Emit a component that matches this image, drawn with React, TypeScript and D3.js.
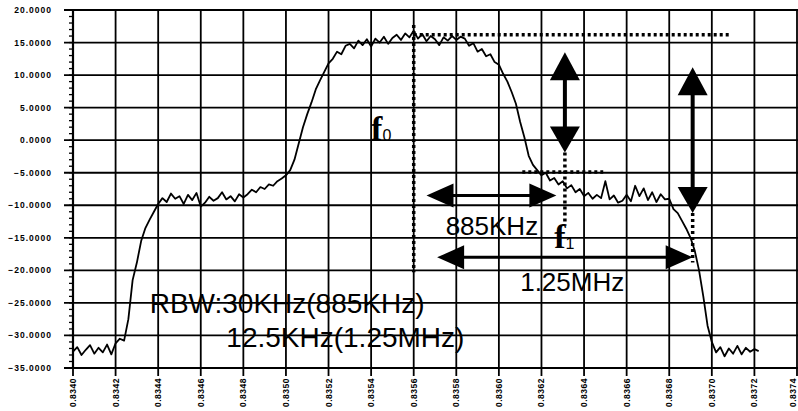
import React from 'react';
import * as d3 from 'd3';

// x axis: frequency (GHz), y axis: level (dB)
const freqTicks = [
  0.8340, 0.8342, 0.8344, 0.8346, 0.8348, 0.8350, 0.8352, 0.8354, 0.8356,
  0.8358, 0.8360, 0.8362, 0.8364, 0.8366, 0.8368, 0.8370, 0.8372, 0.8374,
];
const levelTicks = [20, 15, 10, 5, 0, -5, -10, -15, -20, -25, -30, -35];

// spectrum trace, sampled every 0.00002 GHz starting at 0.8340
const traceStart = 0.8340;
const traceStep = 0.00002;
const traceDb = [
  -32.5, -31.8, -33.0, -32.2, -31.5, -32.8, -31.9, -32.6, -31.4, -32.9, -31.2,
  -30.5, -30.8, -27.5, -21.5, -18.8, -15.5, -13.5, -12.2, -11.0, -9.8,
  -8.9, -9.5, -8.2, -9.0, -8.6, -9.8, -8.4, -9.2, -8.1, -10.2,
  -9.6, -8.7, -9.3, -8.9, -8.0, -9.1, -8.6, -9.4, -8.3, -8.8,
  -8.3, -7.6, -8.0, -7.2, -7.5, -6.8, -7.0, -6.3, -5.9, -5.4, -4.6,
  -3.0, -0.5, 2.0, 4.0, 5.8, 7.8, 9.2, 10.5, 11.8, 12.5, 13.6, 13.2, 14.5, 14.8,
  14.1, 15.3, 14.6, 15.5, 14.4, 15.6, 15.0, 15.9, 14.8, 15.7, 16.2, 15.4, 16.4, 15.8,
  16.8, 15.6, 16.3, 15.2, 16.0, 15.5, 14.6, 15.8, 15.3, 16.0, 15.4, 15.9, 15.6,
  14.5, 14.9, 13.6, 14.0, 12.9, 13.2, 12.0, 11.6, 10.2, 9.0, 7.4, 5.6,
  2.8, 0.4, -2.4, -3.8, -4.6, -5.4, -5.0, -6.2, -5.8, -6.8, -6.3, -7.4, -6.9, -8.0,
  -7.5, -8.6, -8.1, -9.0, -8.4, -8.9,
  -6.3, -9.1, -8.5, -9.6, -9.3, -8.4, -9.4, -7.0, -8.6, -7.4, -9.2, -8.0, -9.5, -8.3, -9.1,
  -9.0, -10.6, -11.2, -12.4, -13.6, -15.0, -17.0, -20.0, -24.0, -28.5, -31.0,
  -32.6, -31.8, -33.2, -32.0, -32.8, -31.6, -32.9, -31.9, -32.5, -32.1, -32.4,
];

// annotation lines, in data units [f1, db1, f2, db2]
const dottedLines = [
  [0.8356, 17.7, 0.8356, -20.3],     // f0 marker
  [0.8356, 16.2, 0.83709, 16.2],     // peak level
  [0.83631, -1.9, 0.83631, -13.1],   // f1 marker
  [0.83611, -4.9, 0.83649, -4.9],    // level at 885KHz
  [0.83691, -11.2, 0.83691, -18.8],  // level at 1.25MHz
];
const vArrows = [
  [0.83631, 13.5, -1.9],
  [0.83691, 11.2, -11.2],
];
const hArrows = [
  [0.83566, 0.83627, -8.5],
  [0.83571, 0.83691, -18.0],
];
const bigLabels = [
  { text: 'RBW:30KHz(885KHz)', f: 0.83436, db: -26.5, size: 28 },
  { text: '12.5KHz(1.25MHz)', f: 0.83472, db: -31.85, size: 28 },
  { text: '885KHz', f: 0.83575, db: -14.6, size: 26 },
  { text: '1.25MHz', f: 0.83610, db: -23.2, size: 26 },
];
const freqLabels = [
  { sub: '0', f: 0.83540, db: 0 },
  { sub: '1', f: 0.83626, db: -16.5 },
];

const W = 798;
const H = 411;
const margin = { left: 73, top: 10, bottom: 43 };

export default function App() {
  const x = d3.scaleLinear().domain([0.8340, 0.8374]).range([margin.left, 797]);
  const y = d3.scaleLinear().domain([-35, 20]).range([H - margin.bottom, margin.top]);

  const line = d3.line<number>()
    .x((d, i) => x(traceStart + i * traceStep))
    .y(d => y(d));

  const fmt = d3.format('.4f');
  const minorTicks = d3.range(-35, 21, 1);

  return (
    <svg width={W} height={H} style={{ position: 'absolute', left: 0, top: 0, background: '#fff' }}
      fontFamily="'Liberation Sans', Arial, sans-serif">
      <rect width={W} height={H} fill="#fff" />

      {/* grid */}
      {levelTicks.map(t => (
        <line key={'h' + t} x1={margin.left - 9} x2={W} y1={y(t)} y2={y(t)} stroke="#000" strokeWidth={1.8} />
      ))}
      {freqTicks.map(t => (
        <line key={'v' + t} x1={x(t)} x2={x(t)} y1={margin.top} y2={y(-35) + 8} stroke="#000" strokeWidth={1.8} />
      ))}
      {minorTicks.map(t => (
        <line key={'m' + t} x1={margin.left - 4} x2={margin.left} y1={y(t)} y2={y(t)} stroke="#000" strokeWidth={1.3} />
      ))}
      <line x1={margin.left} x2={margin.left} y1={margin.top} y2={y(-35)} stroke="#000" strokeWidth={2.2} />
      <line x1={margin.left} x2={W} y1={y(-35)} y2={y(-35)} stroke="#000" strokeWidth={2.2} />

      {/* axis labels */}
      {levelTicks.map(t => (
        <text key={'yl' + t} x={52} y={y(t)} dy="0.35em" textAnchor="end" fontSize={8.5}
          fontWeight="bold" letterSpacing={1}>{fmt(t)}</text>
      ))}
      {freqTicks.map(t => (
        <text key={'xl' + t} transform={`translate(${Math.min(x(t) + 3, W - 2)},${y(-35) + 10}) rotate(-90)`}
          textAnchor="end" fontSize={8.5} fontWeight="bold" letterSpacing={0.5}>{fmt(t)}</text>
      ))}

      {/* spectrum */}
      <path d={line(traceDb) || ''} fill="none" stroke="#000" strokeWidth={1.8} strokeLinejoin="round" />

      {/* annotations */}
      {dottedLines.map((d, i) => (
        <line key={'d' + i} x1={x(d[0])} y1={y(d[1])} x2={x(d[2])} y2={y(d[3])}
          stroke="#000" strokeWidth={3.5} strokeDasharray="3,3" />
      ))}
      {vArrows.map((a, i) => {
        const cx = x(a[0]), y1 = y(a[1]), y2 = y(a[2]);
        return (
          <g key={'va' + i}>
            <line x1={cx} x2={cx} y1={y1 + 20} y2={y2 - 20} stroke="#000" strokeWidth={4} />
            <path d={`M${cx},${y1} L${cx - 15},${y1 + 28} L${cx + 15},${y1 + 28} Z`} fill="#000" />
            <path d={`M${cx},${y2} L${cx - 15},${y2 - 26} L${cx + 15},${y2 - 26} Z`} fill="#000" />
          </g>
        );
      })}
      {hArrows.map((a, i) => {
        const x1 = x(a[0]), x2 = x(a[1]), cy = y(a[2]);
        return (
          <g key={'ha' + i}>
            <line x1={x1 + 20} x2={x2 - 20} y1={cy} y2={cy} stroke="#000" strokeWidth={3} />
            <path d={`M${x1},${cy} L${x1 + 27},${cy - 12} L${x1 + 27},${cy + 12} Z`} fill="#000" />
            <path d={`M${x2},${cy} L${x2 - 27},${cy - 12} L${x2 - 27},${cy + 12} Z`} fill="#000" />
          </g>
        );
      })}
      {bigLabels.map((l, i) => (
        <text key={'bl' + i} x={x(l.f)} y={y(l.db)} fontSize={l.size} fill="#000">{l.text}</text>
      ))}
      {freqLabels.map((l, i) => (
        <text key={'fl' + i} x={x(l.f)} y={y(l.db)} fontFamily="'Liberation Serif', serif" fontWeight="bold"
          fontSize={34}>f<tspan fontSize={16} fontWeight="normal" fontFamily="'Liberation Sans', sans-serif" dy={1}>{l.sub}</tspan></text>
      ))}
    </svg>
  );
}
